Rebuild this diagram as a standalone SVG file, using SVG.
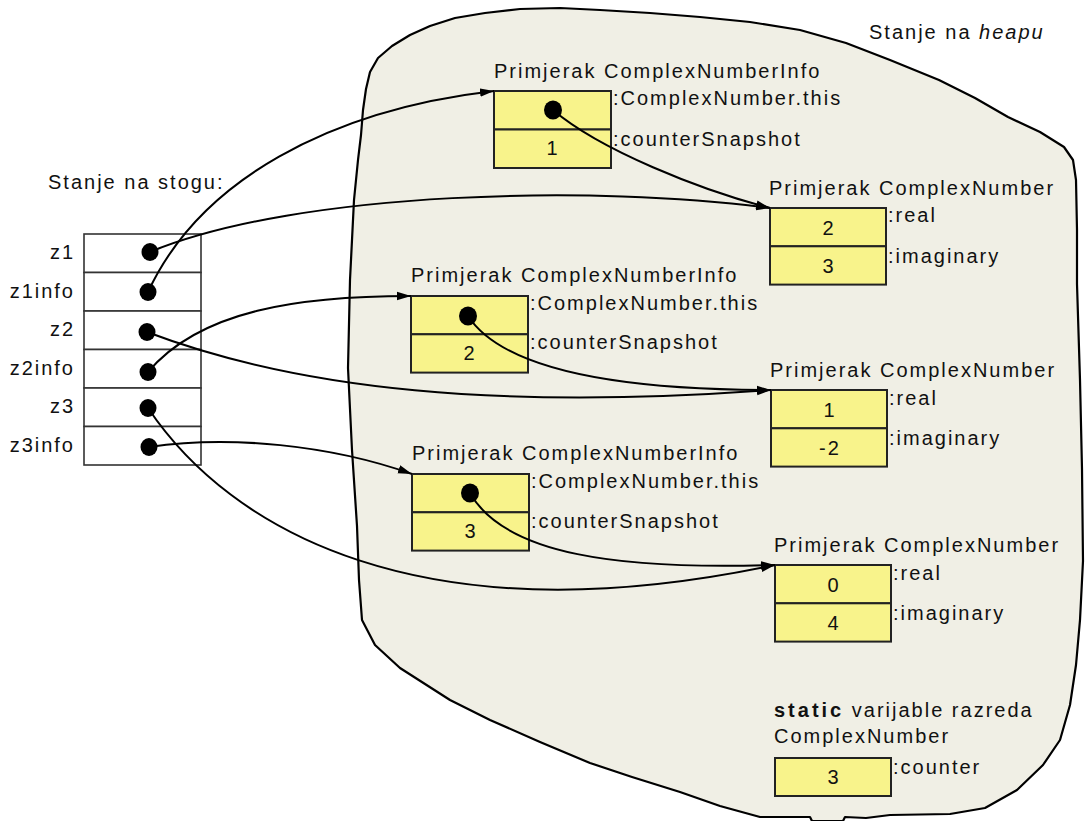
<svg xmlns="http://www.w3.org/2000/svg" width="1086" height="821" viewBox="0 0 1086 821">
<defs>
<style>
text{font-family:"Liberation Sans",Arial,sans-serif;font-size:20px;letter-spacing:2px;fill:#111}
.num{text-anchor:middle}
.lbl{text-anchor:end}
.stk{fill:#fff;stroke:#333;stroke-width:1.6}
.box{fill:#F8F38B;stroke:#222;stroke-width:2}
.dot{fill:#000}
.con{fill:none;stroke:#000;stroke-width:2}
.heap{fill:#F0EFE5;stroke:#000;stroke-width:2.2;stroke-linejoin:round}
</style>
<marker id="arr" markerUnits="userSpaceOnUse" markerWidth="15" markerHeight="10" refX="14" refY="5" orient="auto">
<path d="M0,0.8 L14,5 L0,9.2 Z" fill="#000"/>
</marker>
</defs>
<rect width="1086" height="821" fill="#fff"/>
<g id="heap">
<path class="heap" d="M361,135 L363,110 L366,89 L370,72 L378,58 L392,46 L410,35 L430,26 L455,18 L485,13 L520,9 L560,8 L600,10 L650,13 L700,17 L750,22 L800,30 L846,43 L890,60 L939,80 L975,98 L1008,117 L1040,132 L1064,147 L1073,160 L1076,180 L1077,230 L1077,284 L1080,380 L1082,469 L1083,561 L1080,620 L1076,665 L1070,705 L1060,740 L1043,765 L1017,790 L985,808 L950,814 L890,815 L866,818 L845,817 L843,821 L812,821 L810,817 L760,817 L720,806 L680,792 L632,777 L590,763 L540,742 L490,720 L450,700 L400,668 L375,645 L362,620 L359,580 L357,526 L352,450 L348,368 L350,280 L354,200 L358,160 Z"/>
<text x="869" y="39">Stanje na <tspan font-style="italic">heapu</tspan></text>
</g>
<g id="stack">
<text x="48" y="189">Stanje na stogu:</text>
<rect class="stk" x="84" y="234" width="117" height="38.5"/>
<rect class="stk" x="84" y="272.5" width="117" height="38.5"/>
<rect class="stk" x="84" y="311" width="117" height="38.5"/>
<rect class="stk" x="84" y="349.5" width="117" height="38.5"/>
<rect class="stk" x="84" y="388" width="117" height="38.5"/>
<rect class="stk" x="84" y="426.5" width="117" height="38.5"/>
<text class="lbl" x="75" y="259">z1</text>
<text class="lbl" x="75" y="298">z1info</text>
<text class="lbl" x="75" y="336">z2</text>
<text class="lbl" x="75" y="375">z2info</text>
<text class="lbl" x="75" y="413">z3</text>
<text class="lbl" x="75" y="452">z3info</text>
<ellipse class="dot" cx="150" cy="252" rx="8.5" ry="9"/>
<ellipse class="dot" cx="148" cy="292" rx="8.5" ry="9"/>
<ellipse class="dot" cx="147" cy="332" rx="8.5" ry="9"/>
<ellipse class="dot" cx="148" cy="372" rx="8.5" ry="9"/>
<ellipse class="dot" cx="148" cy="408" rx="8.5" ry="9"/>
<ellipse class="dot" cx="149" cy="447" rx="8.5" ry="9"/>
</g>
<g id="info1">
<text x="494" y="78">Primjerak ComplexNumberInfo</text>
<rect class="box" x="494" y="91" width="117" height="38.5"/>
<rect class="box" x="494" y="129.5" width="117" height="38.5"/>
<text x="613" y="105">:ComplexNumber.this</text>
<text x="613" y="146">:counterSnapshot</text>
<text class="num" x="553" y="155">1</text>
<ellipse class="dot" cx="553" cy="110" rx="9" ry="9.5"/>
</g>
<g id="cn1">
<text x="769" y="195">Primjerak ComplexNumber</text>
<rect class="box" x="770" y="208" width="116" height="38.3"/>
<rect class="box" x="770" y="246.3" width="116" height="38.3"/>
<text x="888" y="222">:real</text>
<text x="888" y="263">:imaginary</text>
<text class="num" x="829" y="235">2</text>
<text class="num" x="829" y="273">3</text>
</g>
<g id="info2">
<text x="411" y="282">Primjerak ComplexNumberInfo</text>
<rect class="box" x="411" y="296" width="117" height="38.3"/>
<rect class="box" x="411" y="334.3" width="117" height="38.3"/>
<text x="530" y="310">:ComplexNumber.this</text>
<text x="530" y="349">:counterSnapshot</text>
<text class="num" x="470" y="360">2</text>
<ellipse class="dot" cx="468" cy="316" rx="9" ry="9.5"/>
</g>
<g id="cn2">
<text x="770" y="377">Primjerak ComplexNumber</text>
<rect class="box" x="771" y="390" width="116" height="38.3"/>
<rect class="box" x="771" y="428.3" width="116" height="38.3"/>
<text x="889" y="405">:real</text>
<text x="889" y="445">:imaginary</text>
<text class="num" x="830" y="417">1</text>
<text class="num" x="830" y="455">-2</text>
</g>
<g id="info3">
<text x="412" y="460">Primjerak ComplexNumberInfo</text>
<rect class="box" x="412" y="474" width="117" height="38.3"/>
<rect class="box" x="412" y="512.3" width="117" height="38.3"/>
<text x="531" y="488">:ComplexNumber.this</text>
<text x="531" y="528">:counterSnapshot</text>
<text class="num" x="471" y="538">3</text>
<ellipse class="dot" cx="470" cy="493" rx="9" ry="9.5"/>
</g>
<g id="cn3">
<text x="774" y="552">Primjerak ComplexNumber</text>
<rect class="box" x="775" y="565" width="116" height="38.3"/>
<rect class="box" x="775" y="603.3" width="116" height="38.3"/>
<text x="893" y="580">:real</text>
<text x="893" y="620">:imaginary</text>
<text class="num" x="834" y="592">0</text>
<text class="num" x="834" y="630">4</text>
</g>
<g id="static">
<text x="774" y="717"><tspan font-weight="bold" letter-spacing="3">static</tspan> varijable razreda</text>
<text x="774" y="743">ComplexNumber</text>
<rect class="box" x="775" y="758" width="116" height="38"/>
<text class="num" x="834" y="784">3</text>
<text x="893" y="774">:counter</text>
</g>
<g id="connectors">
<path class="con" marker-end="url(#arr)" d="M150,252 C300,190 600,185 770,208"/>
<path class="con" marker-end="url(#arr)" d="M148,292 C200,180 330,110 494,91"/>
<path class="con" marker-end="url(#arr)" d="M553,110 C600,150 700,190 770,208"/>
<path class="con" marker-end="url(#arr)" d="M148,372 C200,310 300,296 411,296"/>
<path class="con" marker-end="url(#arr)" d="M147,332 C300,390 500,410 771,390"/>
<path class="con" marker-end="url(#arr)" d="M468,316 C500,365 600,390 771,390"/>
<path class="con" marker-end="url(#arr)" d="M149,447 C230,435 330,445 412,474"/>
<path class="con" marker-end="url(#arr)" d="M148,408 C230,530 420,640 775,565"/>
<path class="con" marker-end="url(#arr)" d="M470,493 C505,555 620,570 775,565"/>
</g>
</svg>
